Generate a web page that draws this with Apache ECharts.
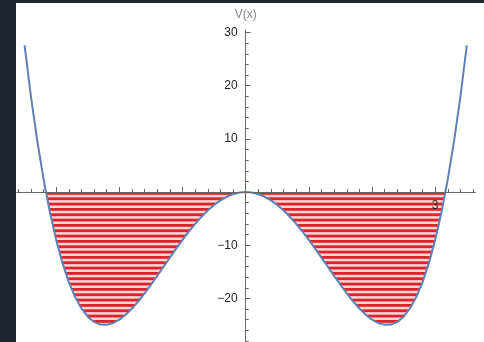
<!DOCTYPE html>
<html lang="en">
<head>
    <meta charset="UTF-8" />
    <title>V(x)</title>
    <script src="https://cdn.jsdelivr.net/npm/echarts@6/dist/echarts.min.js"></script>
    <style>
        html, body {
            margin: 0;
            padding: 0;
            background: #1e2430;
        }
        #main {
            position: absolute;
            left: 16px;
            top: 3px;
            width: 468px;
            height: 339px;
            background: #ffffff;
        }
    </style>
</head>
<body>
    <div id="main"></div>
    <script>
        const xs = [
            -3.5, -3.4, -3.3, -3.2, -3.1, -3.0, -2.9, -2.8, -2.7, -2.6,
            -2.5, -2.4, -2.3, -2.2, -2.1, -2.0, -1.9, -1.8, -1.7, -1.6,
            -1.5, -1.4, -1.3, -1.2, -1.1, -1.0, -0.9, -0.8, -0.7, -0.6,
            -0.5, -0.4, -0.3, -0.2, -0.1, 0,
            0.1, 0.2, 0.3, 0.4, 0.5, 0.6, 0.7, 0.8, 0.9, 1.0,
            1.1, 1.2, 1.3, 1.4, 1.5, 1.6, 1.7, 1.8, 1.9, 2.0,
            2.1, 2.2, 2.3, 2.4, 2.5, 2.6, 2.7, 2.8, 2.9, 3.0,
            3.1, 3.2, 3.3, 3.4, 3.5
        ];
        const vs = [
            27.56, 18.03, 9.69, 2.46, -3.75, -9.00, -13.37, -16.93, -19.76, -21.90,
            -23.44, -24.42, -24.92, -24.97, -24.65, -24.00, -23.07, -21.90, -20.55, -19.05,
            -17.44, -15.76, -14.04, -12.33, -10.64, -9.00, -7.44, -5.99, -4.66, -3.47,
            -2.44, -1.57, -0.89, -0.40, -0.10, 0,
            -0.10, -0.40, -0.89, -1.57, -2.44, -3.47, -4.66, -5.99, -7.44, -9.00,
            -10.64, -12.33, -14.04, -15.76, -17.44, -19.05, -20.55, -21.90, -23.07, -24.00,
            -24.65, -24.97, -24.92, -24.42, -23.44, -21.90, -19.76, -16.93, -13.37, -9.00,
            -3.75, 2.46, 9.69, 18.03, 27.56
        ];
        // where the curve crosses V = 0 at the outer walls
        const wellEdges = [-3.16, 3.16];

        // ticks
        const xMajor = [-3, -2, -1, 1, 2, 3];
        const xMinor = [
            -3.6, -3.4, -3.2, -2.8, -2.6, -2.4, -2.2, -1.8, -1.6, -1.4, -1.2,
            -0.8, -0.6, -0.4, -0.2, 0.2, 0.4, 0.6, 0.8, 1.2, 1.4, 1.6, 1.8,
            2.2, 2.4, 2.6, 2.8, 3.2, 3.4, 3.6
        ];
        const xLabels = [3];
        const yMajor = [-20, -10, 10, 20, 30];
        const yMinor = [
            -28, -26, -24, -22, -18, -16, -14, -12, -8, -6, -4, -2,
            2, 4, 6, 8, 12, 14, 16, 18, 22, 24, 26, 28
        ];

        const curve = xs.map((x, i) => [x, vs[i]]);
        const fill = [[wellEdges[0], 0]]
            .concat(curve.filter(p => p[0] > wellEdges[0] && p[0] < wellEdges[1]))
            .concat([[wellEdges[1], 0]]);

        // horizontal red hatching
        const hatch = document.createElement('canvas');
        hatch.width = 4;
        hatch.height = 16;
        const hc = hatch.getContext('2d');
        hc.fillStyle = '#fad6d6';
        hc.fillRect(0, 0, 4, 16);
        hc.fillStyle = '#e0222a';
        [2.33, 7.67, 13].forEach(y => hc.fillRect(0, y, 4, 2.8));
        hc.fillRect(0, -3, 4, 2.8);

        const xMin = -3.62, xMax = 3.63;
        const yMin = -28.2, yMax = 30.47;
        const axisColor = '#666';
        const labelFont = { color: '#222', fontSize: 12, fontFamily: 'Liberation Sans' };
        const minus = v => String(v).replace('-', '\u2212');

        // axis that only carries ticks, sitting on the zero of the other axis
        function tickAxis(ticks, len) {
            return {
                type: 'value', min: null, max: null, z: 5,
                axisLine: { show: true, onZero: true, onZeroAxisIndex: 0, lineStyle: { color: axisColor, width: 1 } },
                axisTick: { show: true, inside: true, length: len, customValues: ticks, lineStyle: { color: axisColor } },
                axisLabel: { show: false },
                splitLine: { show: false }
            };
        }

        const xTickMajor = Object.assign(tickAxis(xMajor, 5), { min: xMin, max: xMax, position: 'bottom' });
        const xTickMinor = Object.assign(tickAxis(xMinor, 3), { min: xMin, max: xMax, position: 'bottom' });
        const yTickMajor = Object.assign(tickAxis(yMajor, 5), { min: yMin, max: yMax, position: 'left' });
        const yTickMinor = Object.assign(tickAxis(yMinor, 3), { min: yMin, max: yMax, position: 'left' });

        // label-only axes, shifted onto the zero lines after the first layout
        const xLabelAxis = {
            type: 'value', min: xMin, max: xMax, position: 'bottom', z: 6, offset: 0,
            axisLine: { show: false, onZero: false }, axisTick: { show: false },
            axisLabel: Object.assign({ show: true, customValues: xLabels, margin: 8 }, labelFont),
            splitLine: { show: false }
        };
        const yLabelAxis = {
            type: 'value', min: yMin, max: yMax, position: 'left', z: 6, offset: 0,
            name: 'V(x)', nameLocation: 'end', nameGap: 9,
            nameTextStyle: { color: '#888', fontSize: 12, fontFamily: 'Liberation Sans' },
            axisLine: { show: false, onZero: false }, axisTick: { show: false },
            axisLabel: Object.assign({ show: true, customValues: yMajor, margin: 8, formatter: minus }, labelFont),
            splitLine: { show: false }
        };

        const chart = echarts.init(document.getElementById('main'));
        const option = {
            animation: false,
            grid: { left: 1, right: 9, top: 27, bottom: 0, containLabel: false, outerBoundsMode: 'none' },
            xAxis: [xTickMajor, xTickMinor, xLabelAxis],
            yAxis: [yTickMajor, yTickMinor, yLabelAxis],
            series: [
                {
                    type: 'line', xAxisIndex: 0, yAxisIndex: 0, z: 1,
                    data: fill, showSymbol: false, silent: true,
                    lineStyle: { width: 0, opacity: 0 },
                    areaStyle: { color: { image: hatch, repeat: 'repeat' }, opacity: 1, origin: 0 }
                },
                {
                    type: 'line', xAxisIndex: 0, yAxisIndex: 0, z: 3,
                    data: curve, showSymbol: false, silent: true,
                    lineStyle: { color: '#5e81b5', width: 2 }
                }
            ]
        };
        chart.setOption(option);

        // move the label axes onto the zero lines
        const rect = chart.getModel().getComponent('grid', 0).coordinateSystem.getRect();
        const zero = chart.convertToPixel({ xAxisIndex: 0, yAxisIndex: 0 }, [0, 0]);
        xLabelAxis.offset = -(rect.y + rect.height - zero[1]);
        yLabelAxis.offset = -(zero[0] - rect.x);
        chart.setOption(option);
    </script>
</body>
</html>
